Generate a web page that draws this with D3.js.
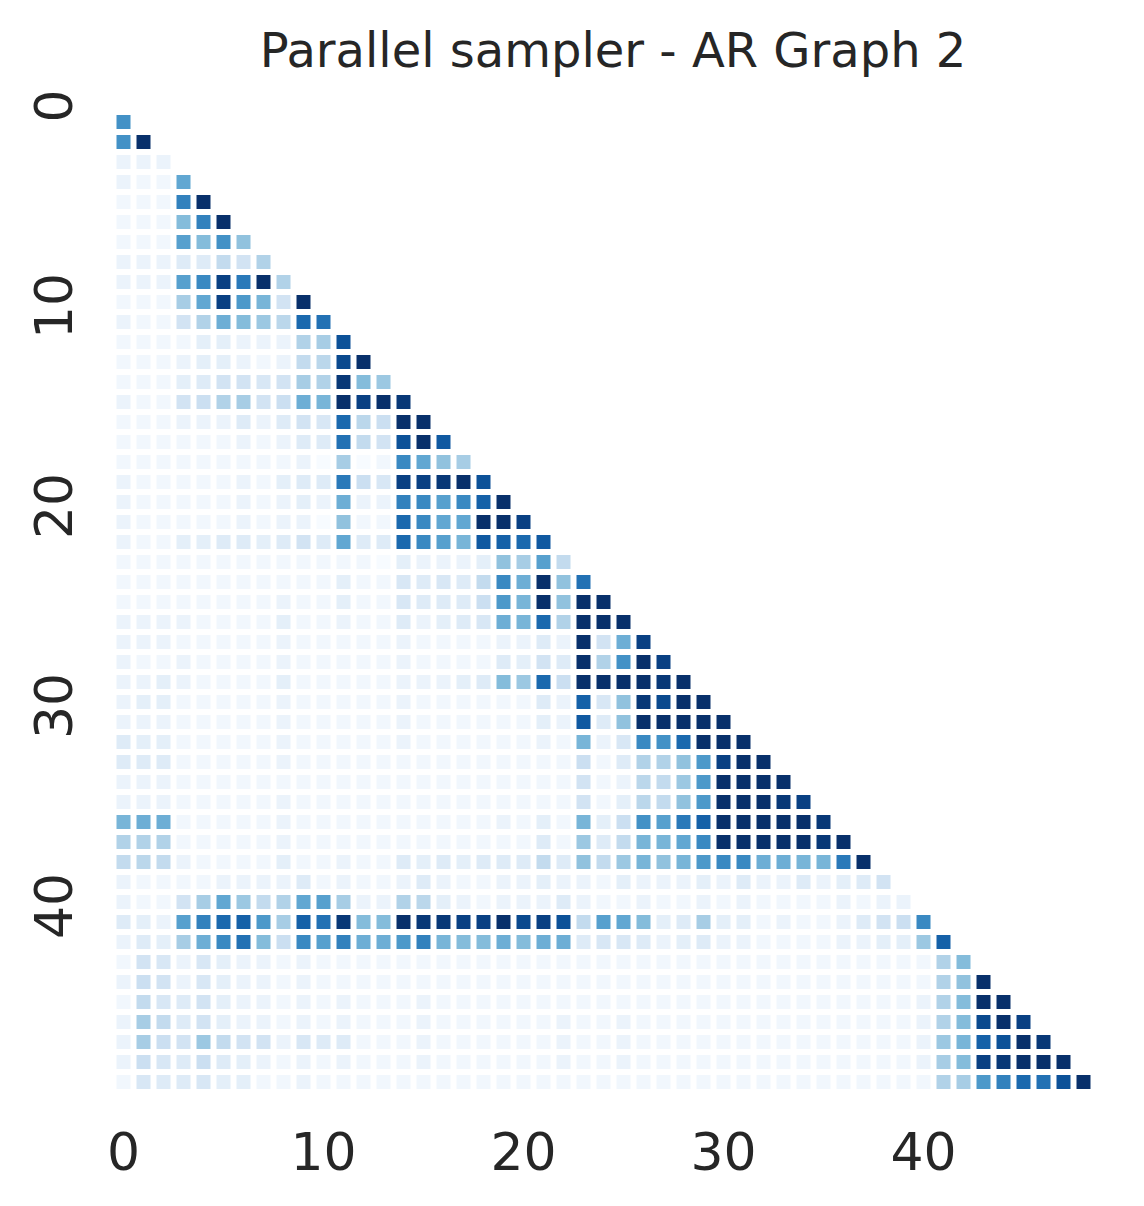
<!DOCTYPE html>
<html>
<head>
<meta charset="utf-8">
<script src="https://cdn.jsdelivr.net/npm/d3@7"></script>
<style>
  body { margin: 0; background: #fff; }
  text { font-family: "DejaVu Sans", sans-serif; fill: #262626; }
</style>
</head>
<body>
<div id="chart"></div>
<script>
const width = 1144;
const height = 1206;

const chartTitle = "Parallel sampler - AR Graph 2";
const nodeCount = 50;
const xTickValues = [0, 10, 20, 30, 40];
const yTickValues = [0, 10, 20, 30, 40];

// lower triangle, row i holds columns 0..i-1 (0 = lightest, 16 = darkest)
const rowValues = [
  [],
  [10],
  [10, 16],
  [1, 1, 1],
  [1, .5, .5, 8.5],
  [.5, .5, .5, 11, 16],
  [.5, .5, .5, 7, 11, 16],
  [.5, .5, .5, 9, 7, 10, 6.5],
  [1, 1, 1, 2, 2, 4, 3, 5],
  [1, 1, 1, 9, 10.5, 15, 11.5, 16, 5],
  [.5, .5, .5, 5.5, 8.5, 15, 9.5, 7.5, 3, 16],
  [1, .5, .5, 3, 5, 8, 7, 6, 4.5, 12.5, 12],
  [.5, .5, .5, .5, 1.5, 1.5, 1, 1, 1, 5, 5.5, 14],
  [.5, .5, .5, 1, 1.5, 1.5, 1, .5, 1, 4, 4.5, 14.5, 16],
  [.5, .5, .5, 1.5, 2, 3, 3, 2.5, 3, 5.5, 5, 15.5, 7, 6],
  [1, .5, .5, 3, 3.5, 5, 5.5, 3, 3.5, 8, 7.5, 16, 15, 16, 15.5],
  [.5, .5, .5, 1, 1, 1, 2, 1, 2, 3, 2.5, 12.5, 4.5, 3.5, 16, 16],
  [.5, .5, .5, .5, .5, .5, 1, .5, 1, 2, 2, 12, 4, 3, 14, 16, 13.5],
  [.5, .5, .5, .5, .5, .5, .5, .5, .5, 1, 0, 5.5, 0, .5, 10.5, 8.5, 6.5, 5.5],
  [1, .5, .5, .5, .5, .5, 1, .5, 1.5, 2, 2, 11.5, 3.5, 2.5, 15, 15, 15.5, 16, 14],
  [1, .5, .5, .5, .5, .5, 1, .5, 1, 1.5, 1, 8, 1, 1, 11, 10.5, 9, 10.5, 13, 16],
  [1, .5, .5, .5, .5, .5, 1, .5, 1, 1, 0, 6.5, .5, .5, 12.5, 10.5, 8.5, 8.5, 16, 16, 15],
  [1, .5, .5, 1.5, 1.5, 2, 2, 1.5, 2, 3, 2, 8.5, 2, 2, 12.5, 10.5, 9, 7.5, 13.5, 13, 12.5, 13.5],
  [.5, .5, .5, .5, .5, .5, .5, .5, .5, .5, .5, .5, .5, 0, 1.5, 1, 1, 1, 1.5, 6.5, 5.5, 9, 4],
  [.5, .5, .5, .5, .5, .5, .5, .5, .5, .5, .5, 1.5, .5, .5, 2.5, 2, 2.5, 2, 4, 10.5, 8, 16, 6.5, 12],
  [.5, .5, .5, .5, .5, .5, .5, .5, 1, .5, .5, 1.5, .5, .5, 2.5, 2, 2, 2, 3.5, 9.5, 7.5, 16, 6.5, 16, 16],
  [1, 1, 1, 1, .5, .5, .5, .5, 1.5, .5, .5, 1, .5, .5, 2, 1, 1.5, 2, 2.5, 8, 7.5, 12.5, 5, 16, 16, 16],
  [1, 1, 1, .5, .5, .5, .5, .5, 1, .5, .5, .5, .5, .5, 1, .5, .5, .5, .5, 1, 1, 2, 1, 16, 3, 8, 15],
  [1, .5, .5, 1, .5, .5, .5, .5, 1, .5, .5, .5, .5, .5, 1, .5, .5, .5, .5, 2, 1.5, 3, 2, 16, 5, 10, 16, 15],
  [1, 1, 1.5, 1, .5, .5, .5, .5, 1.5, .5, .5, .5, .5, .5, 1, 1, 1, 1.5, 2, 7, 6, 12.5, 3.5, 16, 16, 16, 16, 15.5, 16],
  [1, 1.5, 1.5, .5, .5, .5, .5, .5, 1, .5, .5, .5, .5, .5, 1, .5, .5, .5, .5, .5, .5, 2, 1, 13, 2.5, 6.5, 15.5, 14.5, 16, 16],
  [1, 1, 1, .5, .5, .5, .5, .5, 1, .5, .5, .5, .5, .5, 1, .5, .5, .5, .5, .5, .5, 1.5, 1, 13.5, 2, 6.5, 16, 16, 16, 16, 16],
  [2, 1.5, 1.5, .5, .5, .5, .5, .5, 1, .5, .5, .5, .5, .5, 1, .5, .5, .5, .5, .5, .5, 1, .5, 7.5, 1, 2.5, 10.5, 10, 12.5, 16, 16, 16],
  [2, 2, 2, .5, .5, .5, .5, .5, 1, .5, .5, .5, .5, .5, .5, .5, .5, .5, .5, .5, .5, .5, .5, 3.5, .5, 2, 5, 5, 6.5, 9.5, 15, 16, 16],
  [1, 1, 1, .5, .5, .5, .5, .5, .5, .5, .5, .5, .5, .5, .5, .5, .5, .5, .5, .5, .5, .5, .5, 3, .5, 1, 4.5, 4, 6, 9.5, 16, 16, 16, 16],
  [1, 1, 1, .5, .5, .5, .5, .5, 1, .5, .5, .5, .5, .5, .5, .5, .5, .5, .5, .5, .5, .5, .5, 3, .5, 1.5, 4.5, 4, 6.5, 9.5, 16, 16, 16, 15.5, 15],
  [7.5, 8, 8, .5, .5, .5, .5, .5, 1, .5, .5, .5, .5, .5, .5, .5, .5, .5, .5, 1, .5, 1.5, .5, 7.5, 1.5, 3.5, 10, 9, 11.5, 13, 16, 16, 16, 16, 16, 15.5],
  [5, 5, 5, .5, .5, .5, .5, .5, 1, .5, .5, .5, .5, .5, .5, .5, .5, .5, .5, .5, .5, 2, .5, 6, 2, 4, 7.5, 7.5, 8.5, 10.5, 16, 16, 16, 16, 16, 15.5, 16],
  [4, 4.5, 4, 1, .5, .5, .5, .5, 1.5, .5, .5, 1, .5, .5, 2, 1.5, 2, 1.5, 2, 2, 2, 4, 2, 6.5, 4, 6, 7.5, 6.5, 7.5, 9.5, 10.5, 10.5, 8, 8, 7.5, 7.5, 11.5, 16],
  [1, .5, .5, .5, .5, 1, 1, 1, 1, 2, .5, 1, .5, .5, 1, 2, 1, .5, .5, 1, 1, 1.5, 1, 1, .5, 1.5, 1, 1, 1, 1.5, 1, 2, 1, 1, 2, 1, 1.5, 2, 3],
  [1, .5, .5, 3, 5.5, 8.5, 6, 4, 5, 8.5, 9, 5.5, 1, 1, 5, 4.5, 1.5, 1, .5, 1, 1, 1, 2, 1, .5, .5, 1, .5, .5, 1, .5, 1, .5, .5, .5, .5, 1, .5, 1, 1],
  [2, 1.5, 1, 9, 11, 12.5, 13, 9.5, 5.5, 13, 12, 15.5, 7, 7, 16, 15.5, 15.5, 15, 15, 16, 14.5, 15, 14, 4, 9, 8.5, 7, 1.5, 2, 5.5, 1.5, 1.5, .5, 1, .5, .5, 1, 2, 3, 3.5, 10.5],
  [1, 2, 1.5, 5.5, 8, 10.5, 12, 7, 3.5, 10.5, 9, 11, 8, 8, 9.5, 11, 7.5, 7, 7, 8, 7, 8, 8, 2, 2.5, 2.5, 2, 1, 1.5, 2, 1, 1, .5, .5, .5, .5, 1, 1, 1.5, 1.5, 6, 13],
  [.5, 3, 2.5, 1, 2.5, 1.5, 1, 1, .5, 1, .5, .5, .5, .5, .5, .5, .5, .5, .5, .5, .5, .5, .5, .5, .5, .5, .5, .5, .5, .5, .5, .5, .5, .5, .5, .5, .5, .5, .5, .5, .5, 5, 7],
  [1, 3.5, 3, 1, 2.5, 1.5, 1, 1, .5, 1, .5, .5, .5, .5, .5, .5, .5, .5, .5, .5, .5, .5, .5, .5, .5, .5, .5, .5, .5, .5, .5, .5, .5, .5, .5, .5, .5, .5, .5, .5, .5, 5, 6.5, 16],
  [.5, 4, 2.5, 2, 3, 1.5, 1, 1, .5, 1, .5, 1, .5, .5, .5, 1, .5, .5, .5, .5, .5, .5, .5, .5, .5, .5, .5, .5, .5, .5, .5, .5, .5, .5, .5, .5, .5, .5, .5, .5, 1, 5, 7, 16, 16],
  [1, 5.5, 4, 2, 3, 1.5, 1, 1, .5, 1, .5, 1, .5, .5, .5, 1, .5, .5, .5, .5, .5, .5, 1, .5, .5, 1, .5, .5, .5, .5, .5, .5, .5, .5, .5, .5, .5, .5, .5, .5, 1, 5, 7, 14.5, 16, 15],
  [1, 5.5, 3.5, 3, 6, 4, 3, 3, 1, 2.5, 2, 2, .5, .5, .5, 1, .5, .5, .5, .5, .5, .5, 1, .5, .5, 1, .5, .5, .5, .5, .5, .5, .5, .5, .5, .5, .5, .5, .5, .5, 1, 6, 7.5, 13, 14, 16, 15.5],
  [1, 3.5, 2.5, 2, 3.5, 2, 1.5, 1, .5, 1, .5, 1, .5, .5, .5, 1, .5, .5, .5, .5, .5, .5, 1, .5, .5, 1, .5, .5, .5, .5, .5, .5, .5, .5, .5, .5, .5, .5, .5, .5, 1, 5.5, 7, 15, 15.5, 16, 16, 16],
  [.5, 2.5, 2, 2, 2.5, 1.5, 1.5, .5, .5, 1, .5, .5, .5, .5, .5, .5, .5, .5, .5, .5, .5, .5, .5, .5, .5, .5, .5, .5, .5, .5, .5, .5, .5, .5, .5, .5, .5, .5, .5, .5, .5, 5, 5.5, 9.5, 11, 12.5, 12, 14, 16]
];

const cells = [];
rowValues.forEach((row, r) => row.forEach((v, c) => cells.push({ row: r, col: c, value: v })));

const svg = d3.select("#chart").append("svg")
    .attr("width", width)
    .attr("height", height);

const indices = d3.range(nodeCount);
const x = d3.scaleBand().domain(indices).range([113.5, 1113.5]);
const y = d3.scaleBand().domain(indices).range([92, 1092]);
const colour = d3.scaleSequential(d3.interpolateBlues).domain([0, 16]);

const inset = 3;

svg.append("g").attr("id", "cells")
    .selectAll("rect")
    .data(cells)
    .enter()
    .append("rect")
    .attr("x", d => x(d.col) + inset)
    .attr("y", d => y(d.row) + inset)
    .attr("width", x.bandwidth() - 2 * inset)
    .attr("height", y.bandwidth() - 2 * inset)
    .attr("fill", d => colour(d.value));

// x axis
const xAxis = d3.axisBottom(x).tickValues(xTickValues).tickSize(0).tickPadding(0);
const xg = svg.append("g").attr("transform", "translate(0,1092)").call(xAxis);
xg.select(".domain").remove();
xg.selectAll("text")
    .attr("y", 0)
    .attr("dy", 0)
    .attr("transform", "translate(0,78)")
    .style("font-size", "52px")
    .style("fill", "#262626");

// y axis, labels rotated
const yAxis = d3.axisLeft(y).tickValues(yTickValues).tickSize(0).tickPadding(0);
const yg = svg.append("g").attr("transform", "translate(0,0)").call(yAxis);
yg.select(".domain").remove();
yg.selectAll(".tick text")
    .attr("x", 0)
    .attr("dy", 0)
    .attr("text-anchor", "middle")
    .attr("transform", "translate(72,4) rotate(-90)")
    .style("font-size", "52px")
    .style("fill", "#262626");

svg.append("text")
    .attr("x", 613)
    .attr("y", 67)
    .attr("text-anchor", "middle")
    .style("font-size", "48px")
    .text(chartTitle);
</script>
</body>
</html>
